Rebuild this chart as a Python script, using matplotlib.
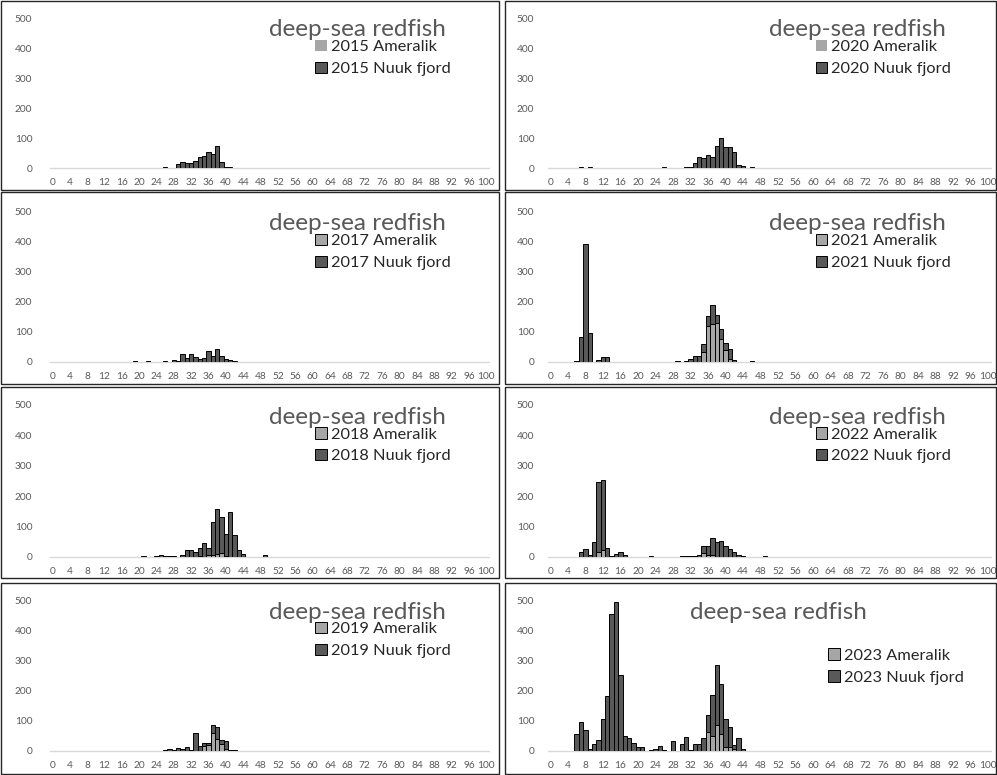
import matplotlib

matplotlib.use("Agg")
import matplotlib.pyplot as plt  # noqa: E402
import numpy as np  # noqa: E402
from matplotlib.patches import Patch, Rectangle  # noqa: E402

plt.rcParams["font.family"] = ["Lato", "DejaVu Sans"]

W, H = 997, 775

# length classes (cm) with a non-zero count, and counts per fjord (stacked: Ameralik below)
LEN_2015 = [26, 29, 30, 31, 32, 33, 34, 35, 36, 37, 38, 39, 40, 41]
AME_2015 = [0, 0, 0, 0, 0, 0, 0, 0, 0, 0, 0, 0, 0, 0]
NUUK_2015 = [2, 12, 20, 18, 17, 22, 37, 40, 52, 46, 74, 20, 4, 4]

LEN_2017 = [19, 22, 26, 28, 29, 30, 31, 32, 33, 34, 35, 36, 37, 38, 39, 40, 41, 42, 43]
AME_2017 = [0] * 19
NUUK_2017 = [2, 2, 4, 8, 3, 28, 14, 26, 17, 10, 14, 35, 20, 43, 20, 10, 7, 3, 1]

LEN_2018 = [21, 24, 25, 26, 27, 28, 30, 31, 32, 33, 34, 35, 36, 37, 38, 39, 40, 41, 42, 43,
            44, 49]
AME_2018 = [0, 0, 0, 0, 0, 0, 0, 0, 0, 0, 3, 0, 8, 5, 10, 12, 3, 0, 0, 0, 0, 0]
NUUK_2018 = [2, 2, 5, 3, 4, 3, 8, 22, 22, 15, 25, 47, 20, 110, 148, 121, 72, 148, 72, 22,
             10, 5]

LEN_2019 = [26, 27, 28, 29, 30, 31, 32, 33, 34, 35, 36, 37, 38, 39, 40, 41, 42]
AME_2019 = [0, 0, 0, 0, 0, 0, 0, 0, 0, 15, 20, 60, 41, 22, 5, 0, 0]
NUUK_2019 = [2, 6, 4, 10, 8, 13, 4, 58, 18, 12, 8, 25, 39, 16, 28, 3, 3]

LEN_2020 = [7, 9, 26, 31, 32, 33, 34, 35, 36, 37, 38, 39, 40, 41, 42, 43, 44, 46]
AME_2020 = [0] * 18
NUUK_2020 = [3, 3, 3, 3, 3, 18, 37, 34, 43, 36, 73, 100, 70, 70, 55, 10, 7, 3]

LEN_2021 = [6, 7, 8, 9, 11, 12, 13, 29, 31, 32, 33, 34, 35, 36, 37, 38, 39, 40, 41, 42, 46]
AME_2021 = [0, 0, 0, 0, 0, 0, 0, 0, 0, 0, 0, 0, 33, 120, 127, 131, 78, 41, 11, 0, 0]
NUUK_2021 = [3, 84, 392, 97, 6, 18, 18, 4, 3, 10, 20, 20, 26, 33, 62, 25, 31, 22, 31, 5, 4]

LEN_2022 = [7, 8, 9, 10, 11, 12, 13, 14, 15, 16, 17, 23, 27, 30, 31, 32, 33, 34, 35, 36,
            37, 38, 39, 40, 41, 42, 43, 44, 49]
AME_2022 = [0, 0, 0, 0, 15, 22, 0, 0, 0, 0, 0, 0, 0, 0, 0, 0, 0, 0, 12, 5,
            5, 0, 0, 0, 0, 0, 0, 0, 0]
NUUK_2022 = [15, 27, 5, 50, 233, 230, 28, 3, 10, 15, 7, 2, 1, 2, 2, 2, 3, 8, 23, 32,
             58, 48, 52, 35, 27, 15, 8, 2, 2]

LEN_2023 = [6, 7, 8, 9, 10, 11, 12, 13, 14, 15, 16, 17, 18, 19, 20, 21, 23, 24, 25, 26,
            28, 30, 31, 32, 33, 34, 35, 36, 37, 38, 39, 40, 41, 42, 43, 44]
AME_2023 = [0, 0, 0, 0, 0, 0, 0, 0, 0, 0, 0, 0, 0, 0, 0, 0, 0, 0, 0, 0,
            0, 0, 0, 0, 0, 0, 0, 63, 49, 86, 56, 13, 13, 8, 0, 0]
NUUK_2023 = [55, 95, 68, 8, 22, 35, 107, 183, 453, 492, 253, 50, 43, 25, 12, 12, 3, 7, 15, 2,
             32, 22, 48, 3, 22, 22, 42, 55, 136, 199, 166, 92, 65, 12, 42, 5]

X_TICKS = list(range(0, 101, 4))
Y_TICKS = [0, 100, 200, 300, 400, 500]
TITLE = "deep-sea redfish"

C_AME = "#A6A6A6"
C_NUUK = "#595959"
C_TXT = "#595959"

# (year, lengths, ameralik, nuuk, column, row)
PANELS = [
    (2015, LEN_2015, AME_2015, NUUK_2015, 0, 0),
    (2017, LEN_2017, AME_2017, NUUK_2017, 0, 1),
    (2018, LEN_2018, AME_2018, NUUK_2018, 0, 2),
    (2019, LEN_2019, AME_2019, NUUK_2019, 0, 3),
    (2020, LEN_2020, AME_2020, NUUK_2020, 1, 0),
    (2021, LEN_2021, AME_2021, NUUK_2021, 1, 1),
    (2022, LEN_2022, AME_2022, NUUK_2022, 1, 2),
    (2023, LEN_2023, AME_2023, NUUK_2023, 1, 3),
]

# plot-area pixel extents
COL_X = [(50.2, 488.5), (548.1, 990.5)]
ROW_Y = [(18, 168), (212, 362), (405, 557), (600, 751)]
BOX_X = [(1, 499), (505, 996)]
BOX_Y = [(1, 190), (192, 384), (387, 578), (583, 774)]


def rect(l, t, r, b):
    return [l / W, 1 - b / H, (r - l) / W, (b - t) / H]


def draw_panel(ax, year, lens, ame, nuuk, col):
    x = np.array(lens)
    a = np.array(ame, dtype=float)
    n = np.array(nuuk, dtype=float)
    ma = a > 0
    ax.bar(x[ma], a[ma], width=1.0, color=C_AME, edgecolor="black", linewidth=0.7, zorder=3)
    mn = n > 0
    ax.bar(x[mn], n[mn], width=1.0, bottom=a[mn], color=C_NUUK, edgecolor="black",
           linewidth=0.7, zorder=3)
    ax.set_xlim(-0.5, 100.5)
    ax.set_ylim(0, 500)
    ax.set_xticks(X_TICKS)
    ax.set_xticklabels([str(v) for v in X_TICKS])
    ax.set_yticks(Y_TICKS)
    for s in ("top", "right", "left"):
        ax.spines[s].set_visible(False)
    ax.spines["bottom"].set_color("#D9D9D9")
    ax.spines["bottom"].set_linewidth(1.0)
    ax.tick_params(axis="both", length=0, labelsize=7.3, colors=C_TXT)
    ax.tick_params(axis="x", pad=7)
    ax.tick_params(axis="y", pad=13 if col == 0 else 10)
    ax.patch.set_alpha(0)

    last = year == 2023
    ax.text(0.52 if last else 0.70, 0.92, TITLE, transform=ax.transAxes, ha="center",
            va="center", fontsize=17.5, color=C_TXT)
    edge_a = "none" if year in (2015, 2020) else "black"
    handles = [Patch(facecolor=C_AME, edgecolor=edge_a, linewidth=0.7,
                     label=f"{year} Ameralik"),
               Patch(facecolor=C_NUUK, edgecolor="black", linewidth=0.7,
                     label=f"{year} Nuuk fjord")]
    anchor = (0.633, 0.68) if last else (0.605, 0.855)
    ax.legend(handles=handles, loc="upper left", bbox_to_anchor=anchor, frameon=False,
              fontsize=11.8, handlelength=0.7, handleheight=0.7, handletextpad=0.25,
              labelspacing=0.45, borderpad=0, borderaxespad=0, labelcolor="#262626")


def main():
    fig = plt.figure(figsize=(W / 100, H / 100), dpi=100)
    for c in range(2):
        for r in range(4):
            (l, rr), (t, b) = BOX_X[c], BOX_Y[r]
            fig.patches.append(Rectangle((l / W, 1 - b / H), (rr - l) / W, (b - t) / H,
                                         transform=fig.transFigure, fill=False,
                                         edgecolor="#262626", linewidth=1.0))
    for year, lens, ame, nuuk, col, row in PANELS:
        (l, rr), (t, b) = COL_X[col], ROW_Y[row]
        ax = fig.add_axes(rect(l, t, rr, b))
        draw_panel(ax, year, lens, ame, nuuk, col)
    fig.savefig("out.png", dpi=100)
    plt.close(fig)


if __name__ == "__main__":
    main()
